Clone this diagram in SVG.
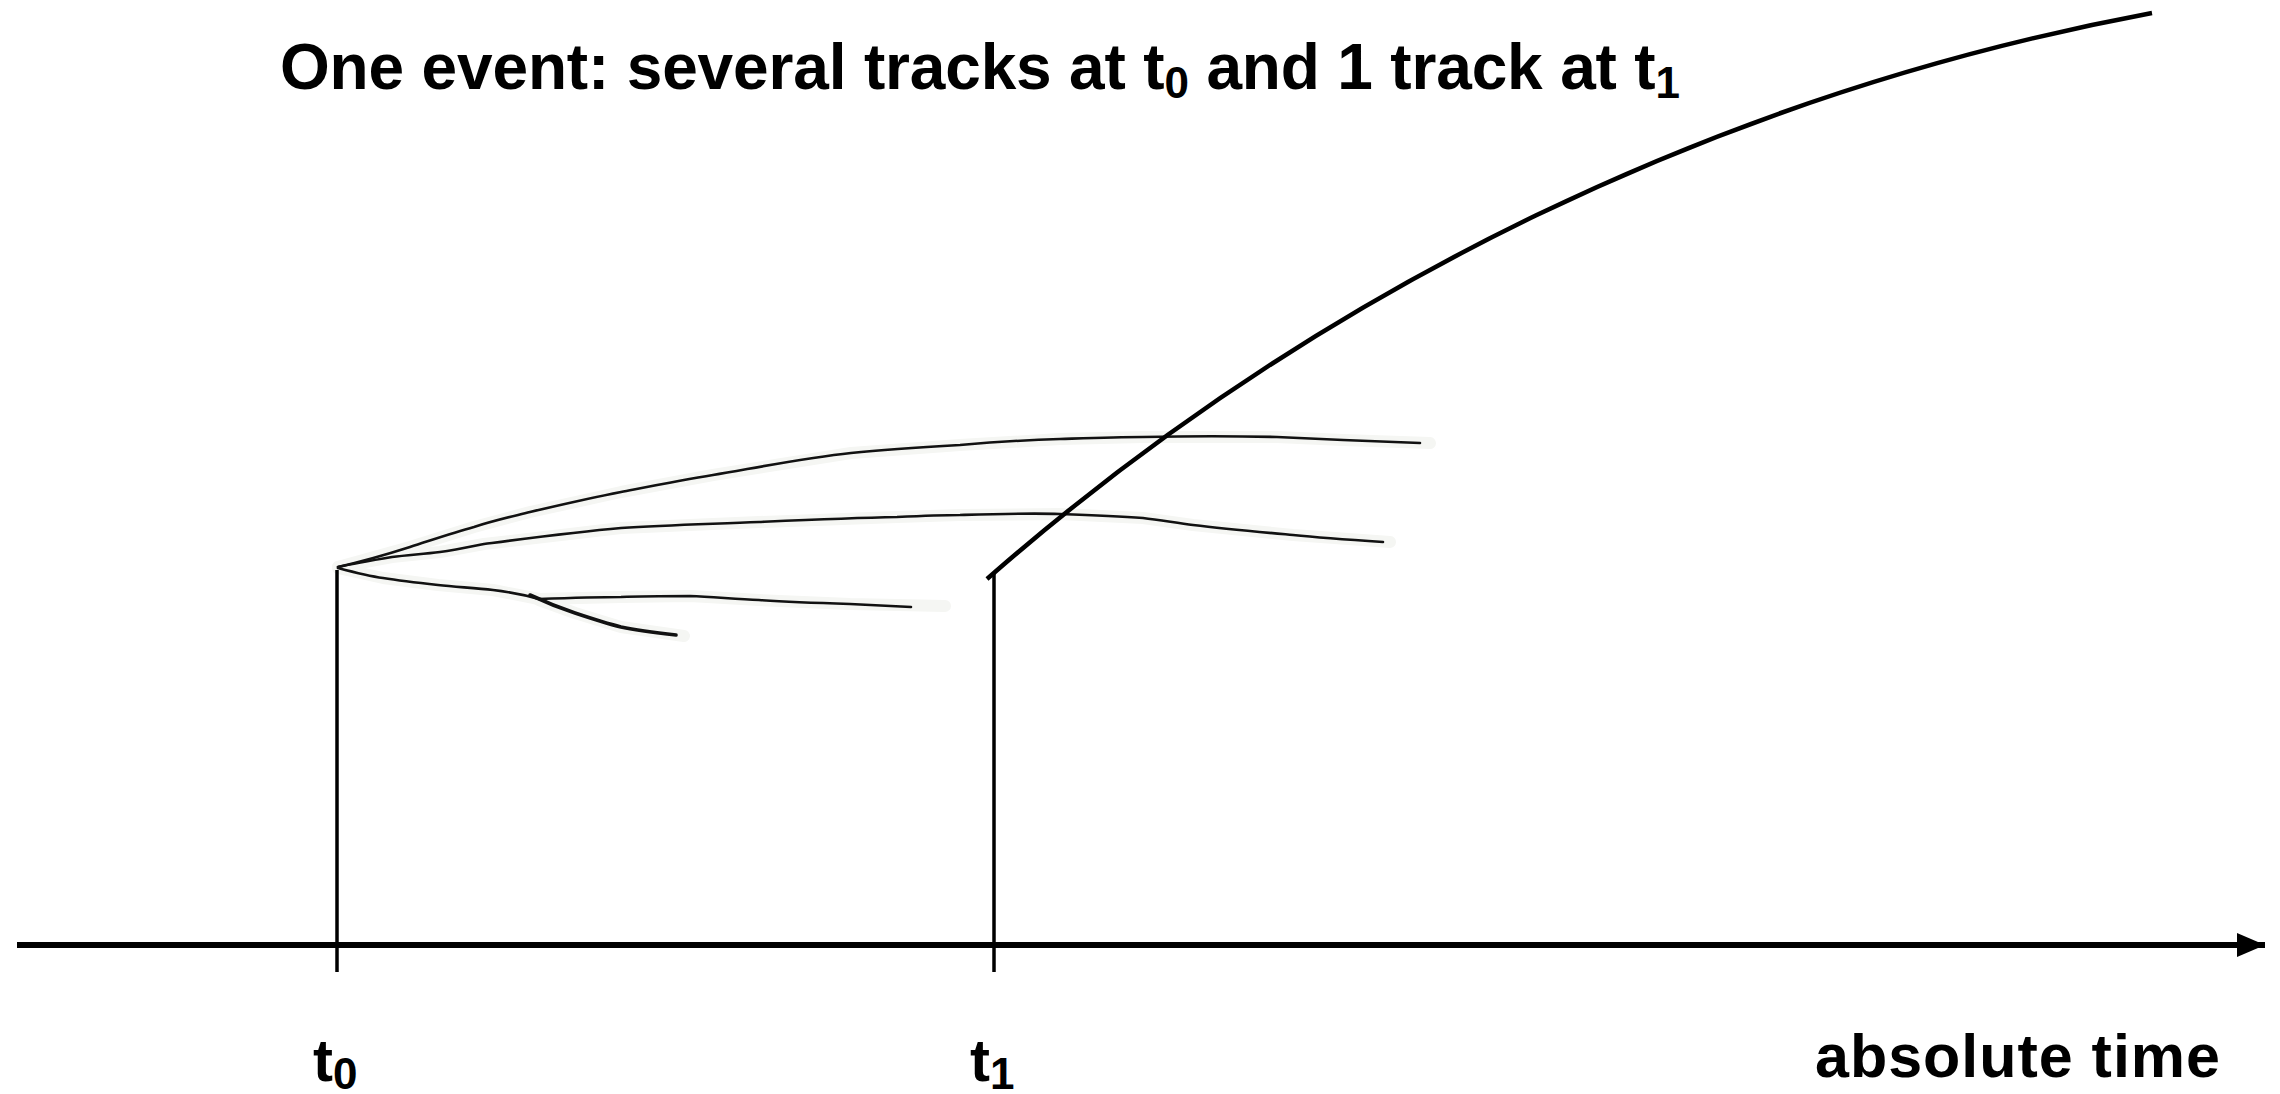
<svg xmlns="http://www.w3.org/2000/svg" width="2280" height="1094" viewBox="0 0 2280 1094">
  <style>
    .lbl { font-family: "Liberation Sans", Arial, sans-serif; font-weight: bold; fill: #000; }
    .halo { fill: none; stroke: #f5f6f3; stroke-width: 12; stroke-linecap: round; stroke-linejoin: round; }
    .track { fill: none; stroke: #111; stroke-width: 2.6; stroke-linecap: round; stroke-linejoin: round; }
    .thick { stroke-width: 3.6; }
    .tick { stroke: #000; stroke-width: 3.5; fill: none; }
    .axis { stroke: #000; stroke-width: 6; fill: none; }
    .curve { stroke: #000; stroke-width: 4.5; fill: none; stroke-linejoin: miter; }
  </style>
  <defs>
    <marker id="arrow" markerUnits="userSpaceOnUse" markerWidth="30" markerHeight="26" refX="28" refY="12" orient="auto">
      <path d="M0,0 L28,12 L0,24 Z" fill="#000"/>
    </marker>
  </defs>
  <rect width="2280" height="1094" fill="#fff"/>

  <g id="title">
    <text class="lbl" x="280" y="89" font-size="64" textLength="1400">One event: several tracks at t<tspan font-size="44" dy="9">0</tspan><tspan dy="-9"> and 1 track at t</tspan><tspan font-size="44" dy="9">1</tspan></text>
  </g>

  <g id="tracks">
    <g id="halos">
      <polyline class="halo" points="338,567 410,547 474,527 530,512 621,492 713,475 851,453 960,445 1060,439 1143,437 1277,437 1343,440 1430,443"/>
      <polyline class="halo" points="338,567 392,557 440,552 484,544 621,528 759,522 897,517 960,515 1060,514 1143,518 1193,525 1293,535 1390,542"/>
      <polyline class="halo" points="338,568 383,578 438,585 493,590 539,599 621,597 690,596 759,600 850,604 945,606"/>
      <polyline class="halo" points="539,600 575,613 621,627 684,636"/>
    </g>
    <path id="track-top" class="track" d="M338,567 C360,562 385,555 410,547 C432,540 452,533 474,527 C492,521 510,517 530,512 C560,505 590,498 621,492 C652,486 682,480 713,475 C760,467 805,458 851,453 C890,449 925,447 960,445 C995,442 1025,440 1060,439 C1090,438 1115,437 1143,437 C1190,436 1235,436 1277,437 C1300,438 1320,439 1343,440 C1370,441 1395,442 1420,443"/>
    <path id="track-mid" class="track" d="M338,567 C356,563 374,560 392,557 C408,555 424,554 440,552 C455,550 469,547 484,544 C530,538 575,532 621,528 C667,525 713,524 759,522 C805,520 850,518 897,517 C918,516 939,515 960,515 C995,514 1027,513 1060,514 C1090,515 1117,516 1143,518 C1160,520 1177,523 1193,525 C1226,529 1260,532 1293,535 C1323,538 1353,540 1383,542"/>
    <path id="track-low" class="track" d="M338,568 C353,572 368,576 383,578 C402,581 420,583 438,585 C457,587 476,588 493,590 C510,592 525,595 539,599 C566,598 594,597 621,597 C644,596 667,596 690,596 C713,597 736,599 759,600 C790,602 820,603 850,604 C870,605 890,606 911,607"/>
    <path id="track-branch" class="track thick" d="M530,595 C545,602 560,608 575,613 C590,618 605,623 621,627 C640,631 658,633 676,635"/>
  </g>

  <g id="connectors">
    <line id="axis" class="axis" x1="17" y1="945" x2="2265" y2="945" marker-end="url(#arrow)"/>
    <line id="tick-t0" class="tick" x1="337" y1="570" x2="337" y2="972"/>
    <line id="tick-t1" class="tick" x1="994" y1="574" x2="994" y2="972"/>
    <path id="big-track" class="curve" d="M987,579 L995,572 A2451,2451 0 0 1 2152,13"/>
  </g>

  <g id="label-t0">
    <text class="lbl" x="313" y="1081" font-size="60">t<tspan font-size="44" dy="8">0</tspan></text>
  </g>
  <g id="label-t1">
    <text class="lbl" x="970" y="1081" font-size="60">t<tspan font-size="44" dy="8">1</tspan></text>
  </g>
  <g id="label-axis">
    <text class="lbl" x="1815" y="1077" font-size="61" textLength="405">absolute time</text>
  </g>
</svg>
